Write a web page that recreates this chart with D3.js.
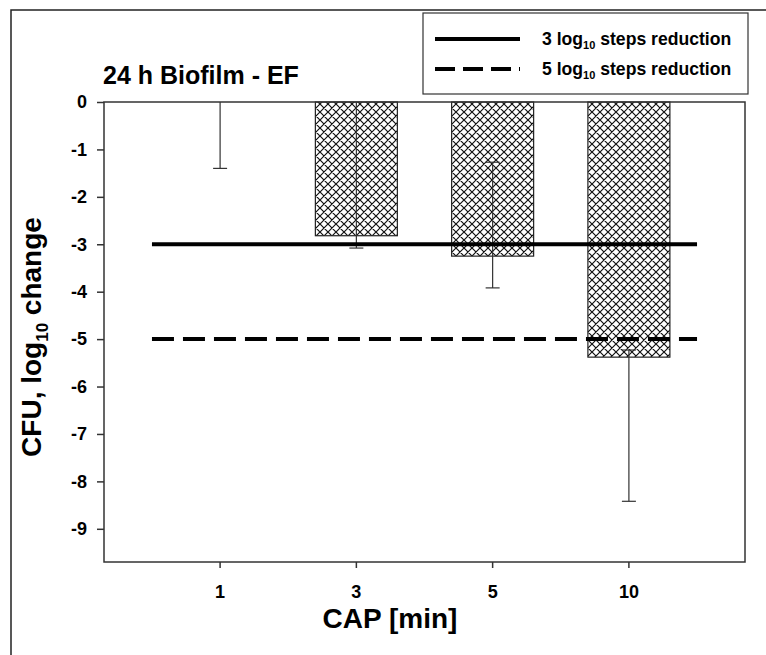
<!DOCTYPE html>
<html>
<head>
<meta charset="utf-8">
<script src="https://cdn.jsdelivr.net/npm/d3@7.9.0/dist/d3.min.js"></script>
<style>
  body { margin: 0; background: #fff; }
  svg { display: block; font-family: "Liberation Sans", Arial, sans-serif; font-weight: bold; }
</style>
</head>
<body>
<svg id="chart" width="766" height="655"></svg>
<script>
// data
const categories = ['1', '3', '5', '10'];
const means = [0, -2.82, -3.25, -5.38];
const errTop = [0, 0, -1.27, -5.23];      // upper end of error bar
const errBottom = [-1.4, -3.08, -3.92, -8.42]; // lower end of error bar
const yTicks = [0, -1, -2, -3, -4, -5, -6, -7, -8, -9];
const refLines = [
  { value: -3, label: '3', dash: null },
  { value: -5, label: '5', dash: '22,9' }
];

const svg = d3.select('#chart');
const plotLeft = 104, plotRight = 745, plotTop = 102, plotBottom = 562;

// outer frame
svg.append('rect')
  .attr('x', 11).attr('y', 10)
  .attr('width', 800).attr('height', 700)
  .attr('fill', 'none').attr('stroke', '#222').attr('stroke-width', 1.5);

// crosshatch pattern
let pat = svg.append('defs').append('pattern')
  .attr('id', 'hatch')
  .attr('patternUnits', 'userSpaceOnUse')
  .attr('width', 8).attr('height', 8);
pat.append('rect').attr('width', 8).attr('height', 8).attr('fill', '#fff');
pat.append('path')
  .attr('d', 'M0,0L8,8M8,0L0,8M-1,7L1,9M7,-1L9,1M-1,1L1,-1M7,9L9,7')
  .attr('stroke', '#111').attr('stroke-width', 1.2);

let x = d3.scaleBand().domain(categories).range([plotLeft, plotRight]).paddingOuter(0.352).paddingInner(0);
let y = d3.scaleLinear().domain([0, -9.7]).range([plotTop, plotBottom]);

const barW = 82;

// bars
svg.selectAll('rect.bar')
  .data(categories)
  .enter().append('rect')
  .attr('class', 'bar')
  .attr('x', (d) => x(d) + x.bandwidth() / 2 - barW / 2)
  .attr('y', y(0))
  .attr('width', barW)
  .attr('height', (d, i) => y(means[i]) - y(0))
  .attr('fill', 'url(#hatch)')
  .attr('stroke', '#222').attr('stroke-width', 1.2)
  .style('display', (d, i) => means[i] === 0 ? 'none' : null);

// error bars
categories.forEach((c, i) => {
  let cx = x(c) + x.bandwidth() / 2;
  svg.append('line')
    .attr('x1', cx).attr('x2', cx)
    .attr('y1', y(errTop[i])).attr('y2', y(errBottom[i]))
    .attr('stroke', '#333').attr('stroke-width', 1.2);
  svg.append('line')
    .attr('x1', cx - 7).attr('x2', cx + 7)
    .attr('y1', y(errBottom[i])).attr('y2', y(errBottom[i]))
    .attr('stroke', '#333').attr('stroke-width', 1.2);
  if (errTop[i] < 0) {
    svg.append('line')
      .attr('x1', cx - 7).attr('x2', cx + 7)
      .attr('y1', y(errTop[i])).attr('y2', y(errTop[i]))
      .attr('stroke', '#333').attr('stroke-width', 1.2);
  }
});

// reference lines
refLines.forEach((r) => {
  svg.append('line')
    .attr('x1', x(categories[0])).attr('x2', x(categories[categories.length - 1]) + x.bandwidth())
    .attr('y1', y(r.value)).attr('y2', y(r.value))
    .attr('stroke', '#000').attr('stroke-width', 4)
    .attr('stroke-dasharray', r.dash);
});

// plot box
svg.append('rect')
  .attr('x', plotLeft).attr('y', plotTop)
  .attr('width', plotRight - plotLeft).attr('height', plotBottom - plotTop)
  .attr('fill', 'none').attr('stroke', '#333').attr('stroke-width', 1.5);

// y axis
let yAxis = svg.append('g')
  .attr('transform', `translate(${plotLeft},0)`)
  .call(d3.axisLeft(y).tickValues(yTicks).tickSize(7).tickPadding(10).tickFormat((d) => String(d)));
yAxis.select('.domain').remove();
yAxis.selectAll('line').attr('stroke', '#333').attr('stroke-width', 1.5);
yAxis.selectAll('text')
  .attr('font-size', 18).attr('font-family', '"Liberation Sans", Arial, sans-serif')
  .attr('font-weight', 'bold').attr('fill', '#000');

// x axis
let xAxis = svg.append('g')
  .attr('transform', `translate(0,${plotBottom})`)
  .call(d3.axisBottom(x).tickSize(6).tickPadding(17));
xAxis.select('.domain').remove();
xAxis.selectAll('line').attr('stroke', '#333').attr('stroke-width', 1.5);
xAxis.selectAll('text')
  .attr('font-size', 18).attr('font-family', '"Liberation Sans", Arial, sans-serif')
  .attr('font-weight', 'bold').attr('fill', '#000');

// title
svg.append('text')
  .attr('x', 103).attr('y', 84)
  .attr('font-size', 25)
  .text('24 h Biofilm - EF');

// axis labels
svg.append('text')
  .attr('x', 390).attr('y', 628)
  .attr('text-anchor', 'middle')
  .attr('font-size', 28)
  .text('CAP [min]');

let yl = svg.append('text')
  .attr('transform', `translate(41,337) rotate(-90)`)
  .attr('text-anchor', 'middle')
  .attr('font-size', 28);
yl.append('tspan').text('CFU, log');
yl.append('tspan').attr('font-size', 17).attr('dy', 7).text('10');
yl.append('tspan').attr('dy', -7).text(' change');

// legend
svg.append('rect')
  .attr('x', 423).attr('y', 13)
  .attr('width', 325).attr('height', 81)
  .attr('fill', '#fff').attr('stroke', '#333').attr('stroke-width', 1.2);

refLines.forEach((r, i) => {
  let ly = 39 + i * 30;
  svg.append('line')
    .attr('x1', 435).attr('x2', 520)
    .attr('y1', ly).attr('y2', ly)
    .attr('stroke', '#000').attr('stroke-width', 4)
    .attr('stroke-dasharray', r.dash ? '20,8' : null);
  let t = svg.append('text')
    .attr('x', 542).attr('y', ly + 6)
    .attr('font-size', 17.6);
  t.append('tspan').text(r.label + ' log');
  t.append('tspan').attr('font-size', 11).attr('dy', 4).text('10');
  t.append('tspan').attr('dy', -4).text(' steps reduction');
});
</script>
</body>
</html>
